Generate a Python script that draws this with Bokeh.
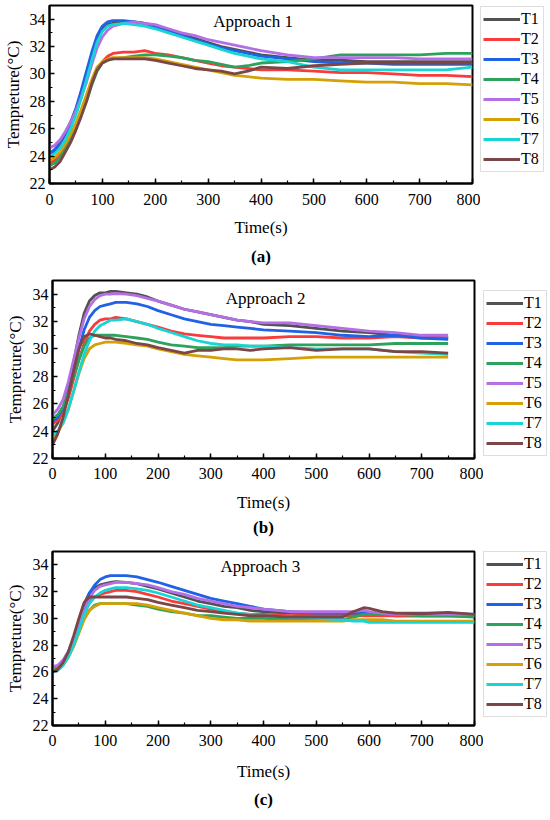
from bokeh.plotting import figure
from bokeh.models import Range1d, SingleIntervalTicker, Legend, LegendItem, Label, Title
from bokeh.layouts import column, row
from bokeh.embed import file_html
from bokeh.resources import INLINE

FONT = "Liberation Serif"

series_names = ["T1", "T2", "T3", "T4", "T5", "T6", "T7", "T8"]
series_colors = ["#515151", "#f83c3c", "#1f62e6", "#2ca25c", "#b46ee6", "#d4a005", "#18d4d4", "#7d4646"]

y_ticks_step = 2
x_ticks_step = 100

# ---------------- Approach 1 ----------------
time_a = [0, 10, 20, 30, 40, 50, 60, 70, 80, 90, 100, 110, 120, 140, 160, 180, 200, 225, 250, 275,
          300, 325, 350, 375, 400, 450, 500, 550, 600, 650, 700, 750, 800]
a_T1 = [24.1, 24.4, 24.9, 25.6, 26.4, 27.4, 28.6, 29.9, 31.3, 32.6, 33.3, 33.6, 33.7, 33.8, 33.8, 33.7, 33.5, 33.2, 32.9, 32.6,
        32.3, 32.0, 31.8, 31.6, 31.4, 31.2, 31.0, 31.0, 30.9, 30.9, 30.9, 30.9, 30.9]
a_T2 = [23.5, 23.7, 24.1, 24.7, 25.4, 26.2, 27.2, 28.3, 29.4, 30.3, 30.9, 31.3, 31.5, 31.6, 31.6, 31.7, 31.5, 31.4, 31.2, 31.0,
        30.8, 30.6, 30.5, 30.4, 30.3, 30.3, 30.2, 30.1, 30.1, 30.0, 29.9, 29.9, 29.8]
a_T3 = [24.2, 24.5, 25.0, 25.7, 26.5, 27.5, 28.8, 30.2, 31.6, 32.8, 33.5, 33.8, 33.9, 33.9, 33.8, 33.7, 33.4, 33.1, 32.8, 32.5,
        32.2, 31.9, 31.7, 31.5, 31.3, 31.1, 30.9, 30.8, 30.8, 30.7, 30.7, 30.7, 30.7]
a_T4 = [23.3, 23.5, 23.9, 24.5, 25.2, 26.0, 27.0, 28.0, 29.2, 30.2, 30.8, 31.0, 31.1, 31.2, 31.3, 31.4, 31.4, 31.3, 31.2, 31.0,
        30.9, 30.7, 30.5, 30.6, 30.8, 30.9, 31.1, 31.4, 31.4, 31.4, 31.4, 31.5, 31.5]
a_T5 = [24.6, 24.8, 25.2, 25.8, 26.5, 27.3, 28.3, 29.4, 30.7, 31.9, 32.7, 33.2, 33.5, 33.7, 33.8, 33.7, 33.6, 33.3, 33.0, 32.8,
        32.5, 32.3, 32.1, 31.9, 31.7, 31.4, 31.2, 31.2, 31.2, 31.2, 31.1, 31.1, 31.1]
a_T6 = [23.7, 23.9, 24.3, 24.9, 25.6, 26.4, 27.4, 28.5, 29.6, 30.5, 30.9, 31.1, 31.2, 31.2, 31.2, 31.2, 31.1, 30.9, 30.7, 30.5,
        30.3, 30.1, 29.9, 29.8, 29.7, 29.6, 29.6, 29.5, 29.4, 29.4, 29.3, 29.3, 29.2]
a_T7 = [24.0, 24.2, 24.6, 25.2, 26.0, 27.0, 28.2, 29.6, 31.0, 32.3, 33.1, 33.5, 33.6, 33.7, 33.6, 33.5, 33.3, 33.0, 32.7, 32.4,
        32.1, 31.8, 31.5, 31.3, 31.1, 30.9, 30.5, 30.3, 30.3, 30.3, 30.3, 30.3, 30.5]
a_T8 = [23.0, 23.2, 23.6, 24.3, 25.0, 25.9, 26.9, 28.0, 29.3, 30.3, 30.8, 31.0, 31.1, 31.1, 31.1, 31.1, 31.0, 30.8, 30.6, 30.4,
        30.3, 30.2, 30.0, 30.2, 30.5, 30.4, 30.6, 30.7, 30.8, 30.8, 30.8, 30.8, 30.8]

# ---------------- Approach 2 ----------------
time_b = [0, 10, 20, 30, 40, 50, 60, 70, 80, 90, 100, 110, 120, 140, 160, 180, 200, 225, 250, 275,
          300, 325, 350, 375, 400, 450, 500, 550, 600, 650, 700, 750]
b_T1 = [24.0, 24.6, 25.6, 27.0, 29.0, 31.0, 32.6, 33.5, 33.9, 34.1, 34.1, 34.2, 34.2, 34.1, 34.0, 33.8, 33.5, 33.2, 32.9, 32.7,
        32.5, 32.3, 32.1, 32.0, 31.8, 31.7, 31.5, 31.3, 31.2, 31.0, 30.9, 30.8]
b_T2 = [24.5, 24.8, 25.4, 26.4, 27.8, 29.2, 30.4, 31.3, 31.8, 32.1, 32.2, 32.2, 32.3, 32.2, 32.0, 31.8, 31.6, 31.3, 31.1, 31.0,
        30.9, 30.8, 30.8, 30.8, 30.8, 30.9, 30.9, 30.8, 30.8, 30.9, 30.8, 30.8]
b_T3 = [24.7, 25.0, 25.7, 26.8, 28.4, 30.0, 31.4, 32.3, 32.8, 33.1, 33.2, 33.3, 33.4, 33.4, 33.3, 33.1, 32.8, 32.5, 32.2, 32.0,
        31.8, 31.7, 31.6, 31.5, 31.4, 31.3, 31.2, 31.0, 30.9, 31.0, 30.8, 30.7]
b_T4 = [24.9, 25.2, 25.8, 26.8, 28.0, 29.2, 30.2, 30.8, 31.0, 31.0, 31.0, 31.0, 31.0, 30.9, 30.8, 30.7, 30.5, 30.3, 30.2, 30.1,
        30.1, 30.1, 30.2, 30.2, 30.2, 30.3, 30.3, 30.3, 30.3, 30.4, 30.4, 30.4]
b_T5 = [25.2, 25.6, 26.3, 27.6, 29.2, 30.8, 32.2, 33.1, 33.6, 33.9, 34.0, 34.0, 34.05, 34.0, 33.9, 33.7, 33.5, 33.2, 32.9, 32.7,
        32.5, 32.3, 32.1, 32.0, 31.9, 31.9, 31.7, 31.5, 31.3, 31.2, 31.0, 31.0]
b_T6 = [23.5, 23.9, 24.6, 25.6, 26.9, 28.2, 29.3, 30.0, 30.3, 30.4, 30.5, 30.5, 30.5, 30.4, 30.3, 30.2, 30.0, 29.8, 29.6, 29.5,
        29.4, 29.3, 29.2, 29.2, 29.2, 29.3, 29.4, 29.4, 29.4, 29.4, 29.4, 29.4]
b_T7 = [23.7, 24.0, 24.6, 25.6, 26.9, 28.3, 29.6, 30.6, 31.3, 31.7, 31.9, 32.1, 32.1, 32.2, 32.0, 31.8, 31.5, 31.2, 30.9, 30.6,
        30.4, 30.3, 30.3, 30.2, 30.2, 30.1, 30.0, 30.0, 30.0, 29.8, 29.7, 29.6]
b_T8 = [23.0, 23.8, 25.0, 26.6, 28.4, 30.0, 30.9, 31.1, 31.0, 30.9, 30.8, 30.8, 30.7, 30.6, 30.4, 30.3, 30.1, 29.9, 29.7, 29.9,
        29.9, 30.0, 30.0, 29.9, 30.0, 30.1, 29.9, 30.0, 30.0, 29.8, 29.8, 29.7]

# ---------------- Approach 3 ----------------
time_c = [0, 10, 20, 30, 40, 50, 60, 70, 80, 90, 100, 110, 120, 140, 160, 180, 200, 225, 250, 275,
          300, 325, 350, 375, 400, 450, 500, 550, 570, 590, 600, 625, 650, 700, 750, 800]
c_T1 = [26.2, 26.3, 26.8, 27.5, 28.5, 29.8, 31.1, 31.9, 32.3, 32.5, 32.6, 32.7, 32.75, 32.7, 32.6, 32.4, 32.2, 31.9, 31.6, 31.3,
        31.1, 30.9, 30.8, 30.6, 30.5, 30.4, 30.3, 30.3, 30.3, 30.3, 30.3, 30.3, 30.2, 30.2, 30.2, 30.2]
c_T2 = [26.1, 26.2, 26.6, 27.3, 28.2, 29.4, 30.6, 31.3, 31.6, 31.8, 31.9, 32.0, 32.1, 32.1, 32.0, 31.8, 31.6, 31.3, 31.1, 30.9,
        30.7, 30.5, 30.4, 30.3, 30.3, 30.2, 30.2, 30.2, 30.2, 30.2, 30.2, 30.2, 30.2, 30.2, 30.2, 30.2]
c_T3 = [26.0, 26.2, 26.7, 27.4, 28.4, 29.6, 30.9, 31.9, 32.5, 32.9, 33.1, 33.2, 33.2, 33.2, 33.1, 32.9, 32.7, 32.4, 32.1, 31.8,
        31.5, 31.3, 31.1, 30.9, 30.7, 30.5, 30.4, 30.4, 30.4, 30.4, 30.4, 30.4, 30.4, 30.4, 30.4, 30.3]
c_T4 = [26.2, 26.3, 26.6, 27.2, 28.0, 29.0, 30.0, 30.6, 31.0, 31.1, 31.1, 31.1, 31.1, 31.1, 31.0, 30.9, 30.7, 30.5, 30.4, 30.2,
        30.2, 30.1, 30.0, 30.0, 30.0, 29.9, 29.9, 29.9, 30.1, 30.3, 30.3, 30.3, 30.3, 30.2, 30.2, 30.1]
c_T5 = [26.4, 26.5, 26.9, 27.5, 28.3, 29.4, 30.6, 31.5, 32.1, 32.4, 32.5, 32.6, 32.7, 32.7, 32.6, 32.5, 32.3, 32.0, 31.8, 31.5,
        31.3, 31.1, 30.9, 30.8, 30.7, 30.5, 30.5, 30.5, 30.5, 30.6, 30.5, 30.4, 30.3, 30.3, 30.3, 30.3]
c_T6 = [26.1, 26.2, 26.5, 27.1, 27.9, 28.9, 29.9, 30.6, 30.9, 31.1, 31.1, 31.1, 31.1, 31.1, 31.1, 31.0, 30.8, 30.6, 30.4, 30.2,
        30.0, 29.9, 29.9, 29.8, 29.8, 29.8, 29.8, 29.8, 29.9, 29.9, 29.9, 29.9, 29.8, 29.8, 29.8, 29.8]
c_T7 = [26.0, 26.1, 26.5, 27.1, 28.0, 29.1, 30.3, 31.1, 31.6, 31.9, 32.1, 32.2, 32.3, 32.3, 32.2, 32.1, 31.9, 31.6, 31.3, 31.0,
        30.8, 30.6, 30.4, 30.3, 30.2, 30.1, 30.0, 29.9, 29.8, 29.8, 29.7, 29.7, 29.7, 29.7, 29.7, 29.7]
c_T8 = [26.0, 26.2, 26.7, 27.5, 28.7, 30.0, 31.2, 31.6, 31.6, 31.6, 31.6, 31.6, 31.6, 31.6, 31.5, 31.4, 31.2, 31.0, 30.8, 30.6,
        30.5, 30.4, 30.3, 30.2, 30.2, 30.1, 30.1, 30.1, 30.5, 30.8, 30.75, 30.5, 30.4, 30.35, 30.45, 30.3]

approach_texts = ["Approach 1", "Approach 2", "Approach 3"]
panel_titles = ["(a)", "(b)", "(c)"]
x_axis_title = "Time(s)"
y_axis_title = "Tempreture(°C)"

LEGEND_H = 8 * 20 + 2 * 2


def make_panel(t, series, approach, panel_title, g):
    fig_w = g["left"] + g["fw"] + g["gap"]
    fh = g["height"] - g["top"] - g["bottom"]
    p = figure(width=fig_w, height=g["height"], output_backend="svg", toolbar_location=None,
               x_range=Range1d(0, 800), y_range=Range1d(22, 35),
               min_border_left=g["left"], min_border_right=g["gap"],
               min_border_top=g["top"], min_border_bottom=g["bottom"])
    p.title = None
    p.xgrid.visible = False
    p.ygrid.visible = False
    p.outline_line_color = "black"
    p.outline_line_width = 2
    p.outline_line_alpha = 1
    p.background_fill_color = "white"
    p.border_fill_color = "white"

    p.xaxis.ticker = SingleIntervalTicker(interval=x_ticks_step, num_minor_ticks=2)
    p.yaxis.ticker = SingleIntervalTicker(interval=y_ticks_step, num_minor_ticks=2)
    for ax in (p.xaxis[0], p.yaxis[0]):
        ax.axis_line_color = "black"
        ax.axis_line_width = 2
        ax.major_tick_in = 5
        ax.major_tick_out = 0
        ax.minor_tick_in = 3
        ax.minor_tick_out = 0
        ax.major_tick_line_color = "black"
        ax.minor_tick_line_color = "black"
        ax.major_tick_line_width = 1.5
        ax.minor_tick_line_width = 1.2
        ax.major_label_text_font = FONT
        ax.major_label_text_font_size = "16px"
        ax.major_label_text_color = "black"
        ax.axis_label_text_font = FONT
        ax.axis_label_text_font_size = "17px"
        ax.axis_label_text_font_style = "normal"
        ax.axis_label_text_color = "black"
    p.xaxis.major_label_standoff = g["xtick_standoff"]
    p.yaxis.major_label_standoff = 4
    p.xaxis.axis_label = x_axis_title
    p.yaxis.axis_label = y_axis_title
    p.xaxis.axis_label_standoff = g["xl_standoff"]
    p.yaxis.axis_label_standoff = g["yl_standoff"]

    for vals, col in zip(series, series_colors):
        p.line(t, vals, line_color=col, line_width=2.8)

    p.add_layout(Label(x=g["ap_x"], y=g["ap_y"], text=approach, text_font=FONT, text_font_size="17px",
                       text_align="center", text_baseline="middle", text_color="black"))

    p.add_layout(Title(text=panel_title, align="center", offset=g["title_offset"], standoff=g["title_standoff"],
                       text_font=FONT, text_font_size="17px", text_font_style="bold", text_color="black"),
                 "below")

    # legend panel (its own small plot, lines reuse each series' first reading)
    lg = figure(width=g["leg_w"], height=g["height"], output_backend="svg", toolbar_location=None,
                x_range=Range1d(0, 1), y_range=Range1d(0, 1), x_axis_type=None, y_axis_type=None,
                min_border_left=0, min_border_right=0, min_border_top=g["top"], min_border_bottom=g["bottom"])
    lg.title = None
    lg.xgrid.visible = False
    lg.ygrid.visible = False
    lg.outline_line_color = None
    lg.background_fill_color = "white"
    lg.border_fill_color = "white"
    items = []
    for n, col, vals in zip(series_names, series_colors, series):
        r = lg.line([t[0]], [vals[0]], line_color=col, line_width=3.2)
        items.append(LegendItem(label=n, renderers=[r]))
    legend = Legend(items=items, location=(0, fh - g["leg_off"] - LEGEND_H), orientation="vertical",
                    label_text_font=FONT, label_text_font_size="16px", label_text_color="black",
                    glyph_width=37, glyph_height=20, label_height=20, label_standoff=1,
                    spacing=0, padding=2, margin=0,
                    border_line_color="#bdbdbd", border_line_width=1,
                    background_fill_color="white", background_fill_alpha=1)
    lg.add_layout(legend)
    return row(p, lg, spacing=0)


geom_a = dict(height=270, top=5, bottom=86, left=49, fw=423, gap=8, leg_w=68, leg_off=4,
              ap_x=385, ap_y=33.8, xtick_standoff=10, xl_standoff=10, yl_standoff=4,
              title_offset=17, title_standoff=10)
geom_b = dict(height=273, top=10, bottom=85, left=52, fw=422, gap=9, leg_w=66, leg_off=12,
              ap_x=404, ap_y=33.7, xtick_standoff=9, xl_standoff=11, yl_standoff=5,
              title_offset=17, title_standoff=3)
geom_c = dict(height=269, top=8, bottom=82, left=52, fw=422, gap=9, leg_w=66, leg_off=7,
              ap_x=394, ap_y=33.85, xtick_standoff=9, xl_standoff=13, yl_standoff=5,
              title_offset=17, title_standoff=8)

ra = make_panel(time_a, [a_T1, a_T2, a_T3, a_T4, a_T5, a_T6, a_T7, a_T8], approach_texts[0], panel_titles[0], geom_a)
rb = make_panel(time_b, [b_T1, b_T2, b_T3, b_T4, b_T5, b_T6, b_T7, b_T8], approach_texts[1], panel_titles[1], geom_b)
rc = make_panel(time_c, [c_T1, c_T2, c_T3, c_T4, c_T5, c_T6, c_T7, c_T8], approach_texts[2], panel_titles[2], geom_c)

layout = column(ra, rb, rc, spacing=0)
open("out.html", "w").write(file_html(layout, INLINE))
